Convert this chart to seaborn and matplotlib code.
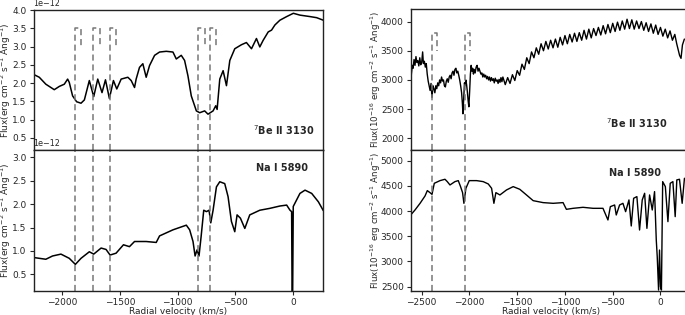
import numpy as np
import pandas as pd
import matplotlib
matplotlib.use('Agg')
import matplotlib.pyplot as plt
import seaborn as sns

sns.set_style('ticks')
plt.rcParams['font.family'] = ['DejaVu Sans']
plt.rcParams['font.size'] = 6.5

# --- left panels: fluxes in erg cm-2 s-1 A-1 (x 1e-12) ---
be_left_v = [-2257, -2200, -2143, -2070, -2026, -1983, -1954, -1940, -1911, -1876, -1838, -1809,
             -1766, -1728, -1693, -1656, -1626, -1592, -1557, -1528, -1490, -1432, -1403, -1374,
             -1360, -1331, -1302, -1273, -1244, -1200, -1157, -1099, -1041, -1012, -969, -940,
             -911, -882, -838, -809, -766, -737, -693, -670, -658, -635, -606, -577, -548, -505,
             -447, -404, -360, -317, -288, -259, -215, -186, -157, -114, -55, 3, 60, 147, 205, 263]
be_left_f = [2.25, 2.16, 1.97, 1.82, 1.91, 1.97, 2.11, 2.02, 1.65, 1.49, 1.45, 1.54,
             2.07, 1.63, 2.11, 1.74, 2.09, 1.58, 2.07, 1.84, 2.11, 2.16, 2.07, 1.88,
             2.11, 2.43, 2.53, 2.16, 2.48, 2.76, 2.85, 2.87, 2.85, 2.66, 2.76, 2.62,
             2.20, 1.65, 1.24, 1.19, 1.24, 1.15, 1.24, 1.38, 1.28, 2.11, 2.34, 1.93, 2.62, 2.94,
             3.05, 3.11, 2.94, 3.22, 2.99, 3.17, 3.40, 3.45, 3.59, 3.72, 3.82, 3.91, 3.86, 3.82, 3.79, 3.72]

na_left_v = [-2257, -2143, -2085, -2012, -1940, -1887, -1838, -1766, -1728, -1664, -1621, -1586,
             -1534, -1470, -1418, -1374, -1273, -1186, -1157, -1041, -925, -896, -867, -849,
             -832, -815, -797, -774, -751, -728, -713, -693, -664, -635, -592, -563, -534,
             -505, -485, -456, -418, -375, -288, -201, -114, -55, -26, -12, -8, -3, 2, 60,
             104, 162, 220, 263]
na_left_f = [0.86, 0.82, 0.89, 0.93, 0.84, 0.71, 0.84, 0.98, 0.93, 1.06, 1.03, 0.91,
             0.95, 1.13, 1.09, 1.20, 1.20, 1.18, 1.32, 1.45, 1.55, 1.45, 1.20, 0.89,
             1.02, 0.89, 1.30, 1.87, 1.84, 1.87, 1.60, 1.87, 2.37, 2.48, 2.44, 2.16, 1.63,
             1.41, 1.77, 1.70, 1.48, 1.77, 1.87, 1.91, 1.96, 1.98, 1.87, 1.84, 0.10, 0.10, 1.95, 2.23,
             2.30, 2.23, 2.05, 1.86]

left_marks = [-1890, -1730, -1590, -820, -720]

# --- right panels: fluxes in 1e-16 erg cm-2 s-1 A-1 ---
be_right_v = [-2615, -2608, -2598, -2590, -2580, -2570, -2560, -2550, -2540, -2530, -2520, -2510,
              -2500, -2490, -2482, -2472, -2462, -2452, -2442, -2432, -2422, -2412, -2402, -2392,
              -2382, -2372, -2362, -2352, -2342, -2332, -2322, -2312, -2302, -2292, -2282, -2272,
              -2262, -2252, -2242, -2232, -2222, -2212, -2202, -2192, -2182, -2172, -2162, -2152,
              -2142, -2132, -2122, -2112, -2102, -2092, -2082, -2074, -2068, -2060, -2052, -2045,
              -2038, -2030, -2022, -2014, -2006, -1998, -1990, -1982, -1974, -1966, -1958, -1950,
              -1940, -1930, -1920, -1910, -1900, -1890, -1880, -1870, -1860, -1850, -1840, -1830,
              -1820, -1810, -1800, -1790, -1780, -1770, -1760, -1750, -1740, -1730, -1720, -1710,
              -1700, -1690, -1680, -1670, -1660,
              -1650, -1625, -1600, -1575, -1550, -1525, -1500, -1475, -1450, -1425, -1400, -1375,
              -1350, -1325, -1300, -1275, -1250, -1225, -1200, -1175, -1150, -1125, -1100, -1075,
              -1050, -1025, -1000, -975, -950, -925, -900, -875, -850, -825, -800, -775, -750,
              -725, -700, -675, -650, -625, -600, -575, -550, -525, -500, -475, -450, -425, -400,
              -375, -350, -325, -300, -275, -250, -225, -200, -175, -150, -125, -100, -75, -50,
              -25, 0, 25, 50, 75, 100, 125, 150, 170, 185, 200, 215, 230, 250]
be_right_f = [2830, 3100, 3250, 3200, 3350, 3250, 3400, 3300, 3330, 3240, 3380, 3260,
              3300, 3480, 3280, 3320, 3220, 3280, 3100, 2980, 2900, 2820, 2940, 2700,
              2900, 2850, 2780, 2900, 2850, 2950, 2900, 3000, 2950, 3050, 2980, 3000,
              2900, 2880, 2980, 3020, 2960, 3050, 3080, 3020, 3120, 3150, 3080, 3180,
              3200, 3120, 3150, 3080, 3000, 2900, 2780, 2600, 2420, 2700, 2950, 2900,
              3000, 2920, 2800, 2650, 2540, 2800, 3100, 3250, 3150, 3200, 3100, 3180,
              3120, 3220, 3250, 3150, 3200, 3150, 3100, 3120, 3050, 3100, 3050, 3080,
              3020, 3060, 3000, 3050, 2980, 3040, 2990, 3020, 2950, 3030, 2980, 3000,
              2940, 3010, 2960, 3040, 2970,
              3050, 2920, 3040, 2940, 3090, 2990, 3160, 3080, 3270, 3180, 3380, 3280,
              3480, 3380, 3550, 3440, 3620, 3500, 3660, 3530, 3680, 3550, 3700, 3560,
              3730, 3600, 3760, 3620, 3780, 3650, 3800, 3660, 3810, 3680, 3850, 3700, 3870,
              3720, 3880, 3760, 3900, 3770, 3930, 3790, 3950, 3810, 3970, 3830, 3990, 3850, 4010,
              3870, 4040, 3880, 4030, 3870, 4010, 3880, 4000, 3850, 3980, 3830, 3960, 3800, 3940,
              3780, 3900, 3750, 3870, 3720, 3840, 3680, 3780, 3620, 3520, 3420, 3370, 3600, 3700]

na_right_v = [-2615, -2570, -2517, -2465, -2441, -2413, -2392, -2368, -2308, -2256, -2232, -2204,
              -2152, -2117, -2093, -2072, -2058, -2037, -2002, -1925, -1856, -1803, -1768, -1744,
              -1723, -1681, -1612, -1542, -1473, -1403, -1333, -1229, -1124, -1020, -985, -915,
              -811, -706, -602, -550, -525, -480, -463, -428, -393, -365, -330, -306, -281, -247,
              -219, -191, -166, -142, -114, -86, -62, -44, -34, -20, -10, 0, 10, 23, 51, 78,
              102, 130, 154, 171, 199, 227, 251]
na_right_f = [3922, 4021, 4153, 4299, 4405, 4365, 4330, 4550, 4603, 4630, 4583, 4517,
              4583, 4603, 4484, 4365, 4153, 4451, 4603, 4603, 4583, 4537, 4451, 4153,
              4365, 4319, 4418, 4484, 4431, 4319, 4206, 4167, 4153, 4167, 4034, 4054,
              4074, 4054, 4054, 3823, 4087, 4120, 3922, 4120, 4153, 3988, 4220, 3704, 4253, 4286,
              3624, 4220, 4352, 3657, 4319, 4021, 4385, 3426, 3095, 2434, 3227, 2500, 2434, 4583, 4484, 3790,
              4550, 4583, 3889, 4617, 4630, 4153, 4650]

right_marks = [-2390, -2050]

W, H = 685, 315
fig = plt.figure(figsize=(W / 100, H / 100), dpi=100)


def box(x0, y0, x1, y1):
    return [x0 / W, 1 - y1 / H, (x1 - x0) / W, (y1 - y0) / H]


axes = {
    'lt': fig.add_axes(box(33.5, 10, 323, 150)),
    'lb': fig.add_axes(box(33.5, 150, 323, 291)),
    'rt': fig.add_axes(box(410.7, 9.3, 692, 150)),
    'rb': fig.add_axes(box(410.7, 150, 692, 291)),
}

dash = dict(color='#777777', lw=1.1, ls=(0, (4, 2.5)))
ylab_l = 'Flux(erg cm$^{-2}$ s$^{-1}$ Ang$^{-1}$)'
ylab_r = 'Flux(10$^{-16}$ erg cm$^{-2}$ s$^{-1}$ Ang$^{-1}$)'

panels = [
    ('lt', be_left_v, np.array(be_left_f) * 1e-12, (0.17e-12, 4.0e-12), (-2250, 260), left_marks,
     (3.5e-12, 3.0e-12), ylab_l, '$^7$Be II 3130', (0.97, 0.14), 1.1, -0.071, 6.5),
    ('lb', na_left_v, np.array(na_left_f) * 1e-12, (0.14e-12, 3.16e-12), (-2250, 260), left_marks,
     None, ylab_l, 'Na I 5890', (0.948, 0.87), 1.1, -0.071, 6.5),
    ('rt', be_right_v, np.array(be_right_f), (1800, 4210), (-2615, 330), right_marks,
     (3800, 3500), ylab_r, '$^7$Be II 3130', (0.914, 0.19), 1.0, -0.1, 6.2),
    ('rb', na_right_v, np.array(na_right_f), (2415, 5210), (-2615, 330), right_marks,
     None, ylab_r, 'Na I 5890', (0.889, 0.84), 1.0, -0.1, 6.2),
]

for key, v, f, ylim, xlim, marks, bracket, ylab, label, pos, lw, labx, labfs in panels:
    ax = axes[key]
    df = pd.DataFrame({'v': v, 'f': f})
    sns.lineplot(data=df, x='v', y='f', ax=ax, color='black', lw=lw,
                 estimator=None, sort=False)
    for m in marks:
        if bracket is None:
            ax.plot([m, m], [ylim[0], ylim[1]], **dash)
        else:
            ax.plot([m, m, m + 55, m + 55], [ylim[0], bracket[0], bracket[0], bracket[1]], **dash)
    ax.set_xlim(*xlim)
    ax.set_ylim(*ylim)
    ax.set_ylabel(ylab, fontsize=labfs)
    ax.yaxis.set_label_coords(labx, 0.5)
    ax.text(pos[0], pos[1], label, transform=ax.transAxes, ha='right', va='center',
            fontsize=7, fontweight='bold')
    ax.tick_params(labelsize=6.5, length=3, pad=2)
    for s in ax.spines.values():
        s.set_color('#222222')
        s.set_linewidth(1.0)
    if key in ('lt', 'rt'):
        ax.tick_params(labelbottom=False)
        ax.set_xlabel('')
    else:
        ax.set_xlabel('Radial velocity (km/s)', fontsize=6.5, labelpad=0)

for key in ('lt', 'lb'):
    axes[key].set_yticks(np.arange(0.5e-12, 4.01e-12, 0.5e-12))
    axes[key].yaxis.get_offset_text().set_fontsize(5.8)
axes['lt'].set_ylim(0.17e-12, 4.0e-12)
axes['lb'].set_ylim(0.14e-12, 3.16e-12)
axes['rt'].set_yticks(np.arange(2000, 4001, 500))
axes['rb'].set_yticks(np.arange(2500, 5001, 500))
for key in ('lt', 'lb'):
    axes[key].set_xticks(np.arange(-2000, 1, 500))
for key in ('rt', 'rb'):
    axes[key].set_xticks(np.arange(-2500, 1, 500))

fig.savefig('out.png', dpi=100)
